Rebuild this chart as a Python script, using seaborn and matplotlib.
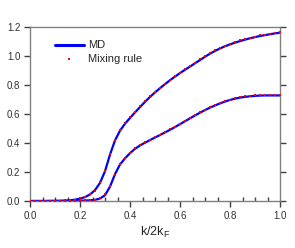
import numpy as np
import pandas as pd
import seaborn as sns
import matplotlib.pyplot as plt
from matplotlib.ticker import MultipleLocator

# k/2kF grid (step 0.02)
k = [0.00, 0.02, 0.04, 0.06, 0.08, 0.10, 0.12, 0.14, 0.16, 0.18,
     0.20, 0.22, 0.24, 0.26, 0.28, 0.30, 0.32, 0.34, 0.36, 0.38,
     0.40, 0.42, 0.44, 0.46, 0.48, 0.50, 0.52, 0.54, 0.56, 0.58,
     0.60, 0.62, 0.64, 0.66, 0.68, 0.70, 0.72, 0.74, 0.76, 0.78,
     0.80, 0.82, 0.84, 0.86, 0.88, 0.90, 0.92, 0.94, 0.96, 0.98, 1.00]

md_upper = [0.000, 0.000, 0.000, 0.000, 0.001, 0.001, 0.002, 0.003, 0.005, 0.009,
            0.016, 0.027, 0.045, 0.075, 0.125, 0.205, 0.320, 0.418, 0.485, 0.533,
            0.573, 0.611, 0.648, 0.684, 0.718, 0.749, 0.778, 0.806, 0.833, 0.858,
            0.882, 0.905, 0.927, 0.950, 0.972, 0.995, 1.016, 1.035, 1.052, 1.067,
            1.080, 1.092, 1.103, 1.113, 1.122, 1.130, 1.138, 1.144, 1.150, 1.156, 1.161]

md_lower = [0.000, 0.000, 0.000, 0.000, 0.000, 0.000, 0.000, 0.000, 0.001, 0.001,
            0.002, 0.003, 0.005, 0.008, 0.017, 0.040, 0.099, 0.185, 0.252, 0.294,
            0.330, 0.360, 0.383, 0.402, 0.420, 0.438, 0.455, 0.473, 0.491, 0.510,
            0.530, 0.550, 0.570, 0.590, 0.609, 0.627, 0.644, 0.659, 0.673, 0.686,
            0.697, 0.706, 0.713, 0.718, 0.722, 0.725, 0.727, 0.728, 0.728, 0.728, 0.728]

mix_upper = [0.000, 0.000, 0.000, 0.000, 0.001, 0.001, 0.002, 0.004, 0.006, 0.010,
             0.018, 0.030, 0.050, 0.072, 0.130, 0.210, 0.325, 0.422, 0.488, 0.537,
             0.576, 0.615, 0.652, 0.688, 0.722, 0.753, 0.782, 0.810, 0.837, 0.862,
             0.886, 0.909, 0.931, 0.954, 0.976, 0.999, 1.020, 1.039, 1.056, 1.071,
             1.084, 1.096, 1.107, 1.117, 1.126, 1.134, 1.142, 1.148, 1.154, 1.160, 1.165]

mix_lower = [0.000, 0.000, 0.000, 0.000, 0.000, 0.000, 0.000, 0.001, 0.001, 0.002,
             0.003, 0.004, 0.006, 0.009, 0.019, 0.045, 0.102, 0.182, 0.255, 0.297,
             0.333, 0.363, 0.386, 0.405, 0.423, 0.441, 0.458, 0.476, 0.494, 0.513,
             0.533, 0.553, 0.573, 0.593, 0.612, 0.630, 0.647, 0.662, 0.676, 0.689,
             0.700, 0.709, 0.716, 0.721, 0.725, 0.728, 0.730, 0.731, 0.731, 0.731, 0.731]

sns.set_style('ticks')
plt.rcParams['font.family'] = ['Liberation Sans', 'DejaVu Sans']

fig = plt.figure(figsize=(2.95, 2.48), dpi=100)
ax = fig.add_axes([30 / 295, 47 / 248, 250 / 295, 174 / 248])

sns.lineplot(x=k, y=md_upper, color='#0000ff', lw=1.6, ax=ax, label='MD')
sns.lineplot(x=k, y=md_lower, color='#0000ff', lw=1.6, ax=ax)
sns.scatterplot(x=k, y=mix_upper, color='#ff0000', s=2.5, marker='s',
                linewidth=0, ax=ax, label='Mixing rule', zorder=3)
sns.scatterplot(x=k, y=mix_lower, color='#ff0000', s=2.5, marker='s',
                linewidth=0, ax=ax, zorder=3)

ax.set_xlim(0, 1)
ax.set_ylim(0, 1.2)
ax.xaxis.set_major_locator(MultipleLocator(0.2))
ax.xaxis.set_minor_locator(MultipleLocator(0.05))
ax.yaxis.set_major_locator(MultipleLocator(0.2))
ax.xaxis.set_major_formatter(plt.FormatStrFormatter('%.1f'))
ax.yaxis.set_major_formatter(plt.FormatStrFormatter('%.1f'))

for s in ax.spines.values():
    s.set_color('#808080')
    s.set_linewidth(1)
ax.tick_params(axis='both', which='major', direction='out', length=4, width=1,
               color='#404040', labelsize=7, labelcolor='#303030', pad=3)
ax.tick_params(axis='x', which='minor', direction='in', length=3, width=1, color='#404040')
ax.tick_params(axis='y', which='major', right=True)

ax.set_xlabel('k/2k$_\\mathregular{F}$', fontsize=9, labelpad=3)
ax.set_ylabel('')

leg = ax.legend(loc='upper left', bbox_to_anchor=(0.06, 0.98), frameon=False,
                fontsize=8, handlelength=2.6, handletextpad=0.4, labelspacing=0.3,
                markerscale=1.2)
leg.get_lines()[0].set_linewidth(2.2)

fig.savefig('out.png', dpi=100)
